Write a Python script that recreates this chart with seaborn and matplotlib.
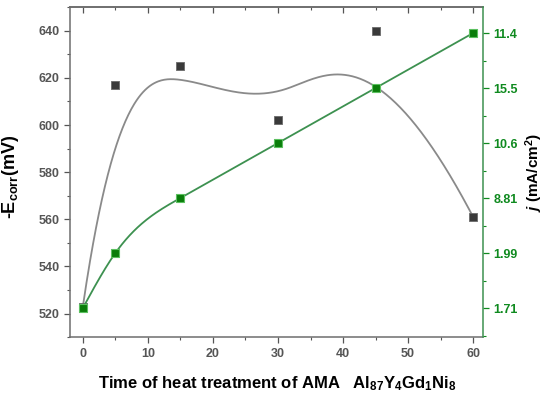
import numpy as np
import pandas as pd
import matplotlib
matplotlib.use("Agg")
import matplotlib.pyplot as plt
from matplotlib.ticker import MultipleLocator, FixedLocator, FixedFormatter
import seaborn as sns

# ---- data ----
time_min = [0, 5, 15, 30, 45, 60]
ecorr_mv = [523, 617, 625, 602, 640, 561]
j_labels = ["1.71", "1.99", "8.81", "10.6", "15.5", "11.4"]
j_rank = [0, 1, 2, 3, 4, 5]   # position of each j value on the right axis

sns.set_theme(style="white")
plt.rcParams['font.family'] = ['Liberation Sans', 'DejaVu Sans']
plt.rcParams['mathtext.fontset'] = 'custom'
plt.rcParams['mathtext.rm'] = 'Liberation Sans:bold'
plt.rcParams['mathtext.it'] = 'Liberation Sans:italic:bold'
plt.rcParams['mathtext.bf'] = 'Liberation Sans:bold'


def bspline_curve(xs, ys, n=400, k=3):
    """Clamped B-spline using the data points as control points."""
    P = np.column_stack([xs, ys]).astype(float)
    m = len(P)
    inner = np.linspace(0, 1, m - k + 1)[1:-1]
    knots = np.concatenate([np.zeros(k + 1), inner, np.ones(k + 1)])
    t = np.linspace(0, 1, n)
    t[-1] = 1 - 1e-12

    def basis(i, p, t):
        if p == 0:
            return ((knots[i] <= t) & (t < knots[i + 1])).astype(float)
        out = np.zeros_like(t)
        d1 = knots[i + p] - knots[i]
        d2 = knots[i + p + 1] - knots[i + 1]
        if d1 > 0:
            out += (t - knots[i]) / d1 * basis(i, p - 1, t)
        if d2 > 0:
            out += (knots[i + p + 1] - t) / d2 * basis(i + 1, p - 1, t)
        return out

    B = np.column_stack([basis(i, k, t) for i in range(m)])
    C = B @ P
    return C[:, 0], C[:, 1]


def natural_spline(xs, ys, n=400):
    x = np.asarray(xs, float)
    y = np.asarray(ys, float)
    N = len(x)
    h = np.diff(x)
    A = np.zeros((N, N))
    r = np.zeros(N)
    A[0, 0] = 1
    A[-1, -1] = 1
    for i in range(1, N - 1):
        A[i, i - 1] = h[i - 1]
        A[i, i] = 2 * (h[i - 1] + h[i])
        A[i, i + 1] = h[i]
        r[i] = 6 * ((y[i + 1] - y[i]) / h[i] - (y[i] - y[i - 1]) / h[i - 1])
    M = np.linalg.solve(A, r)
    xx = np.linspace(x[0], x[-1], n)
    idx = np.clip(np.searchsorted(x, xx) - 1, 0, N - 2)
    x0, x1 = x[idx], x[idx + 1]
    hh = x1 - x0
    yy = (M[idx] * (x1 - xx) ** 3 / (6 * hh) + M[idx + 1] * (xx - x0) ** 3 / (6 * hh)
          + (y[idx] / hh - M[idx] * hh / 6) * (x1 - xx)
          + (y[idx + 1] / hh - M[idx + 1] * hh / 6) * (xx - x0))
    return xx, yy


df = pd.DataFrame({"t": time_min, "E": ecorr_mv, "j": j_rank})
bx, by = bspline_curve(time_min, ecorr_mv)
gx, gy = natural_spline(time_min, j_rank)

fig = plt.figure(figsize=(5.5, 3.99), dpi=100)
ax = fig.add_axes([0.127, 0.155, 0.751, 0.827])
ax2 = ax.twinx()

GRAY = "#3a3a3a"
GREEN = "#0f8a1f"
LINEGREEN = "#3d9150"

sns.lineplot(x=bx, y=by, ax=ax, color="#8a8a8a", lw=1.3, sort=False, zorder=2)
sns.scatterplot(data=df, x="t", y="E", ax=ax, marker="s", s=30, color=GRAY,
                edgecolor="#6a6a6a", linewidth=0.6, zorder=3)

sns.lineplot(x=gx, y=gy, ax=ax2, color=LINEGREEN, lw=1.3, sort=False, zorder=2)
sns.scatterplot(data=df, x="t", y="j", ax=ax2, marker="s", s=36, color="#0a7d0a",
                edgecolor="#5cc060", linewidth=0.8, zorder=3)

ax.set_xlim(-2, 61.5)
ax.set_ylim(510, 650)
ax2.set_ylim(-0.53, 5.47)

ax.xaxis.set_major_locator(MultipleLocator(10))
ax.xaxis.set_minor_locator(MultipleLocator(5))
ax.yaxis.set_major_locator(MultipleLocator(20))
ax.yaxis.set_minor_locator(MultipleLocator(10))
ax2.yaxis.set_major_locator(FixedLocator(j_rank))
ax2.yaxis.set_major_formatter(FixedFormatter(j_labels))
ax2.yaxis.set_minor_locator(MultipleLocator(0.5))

ax.tick_params(axis="x", which="both", direction="out", bottom=True, top=False,
               colors="#555555", labelsize=9)
ax.tick_params(axis="y", which="both", direction="out", left=True, colors="#555555",
               labelsize=9)
ax.tick_params(which="major", length=4, width=0.9)
ax.tick_params(which="minor", length=2.5, width=0.8)
ax2.tick_params(axis="y", which="both", direction="out", right=True, colors=GREEN,
                labelsize=9)
ax2.tick_params(which="major", length=4, width=0.9)
ax2.tick_params(which="minor", length=2.5, width=0.8)

# top ticks pointing inward (mirrored, no labels)
secx = ax.secondary_xaxis("top")
secx.xaxis.set_major_locator(MultipleLocator(10))
secx.xaxis.set_minor_locator(MultipleLocator(5))
secx.tick_params(which="both", direction="in", labeltop=False, colors="#555555")
secx.tick_params(which="major", length=4, width=0.9)
secx.tick_params(which="minor", length=2.5, width=0.8)

for lab in ax.get_xticklabels() + ax.get_yticklabels() + ax2.get_yticklabels():
    lab.set_fontweight("bold")

for s in ["left", "bottom", "top"]:
    ax.spines[s].set_color("#6e6e6e")
    ax.spines[s].set_linewidth(1.1)
secx.spines["top"].set_color("#6e6e6e")
ax2.spines["right"].set_color(LINEGREEN)
ax2.spines["right"].set_linewidth(1.1)
ax2.spines["left"].set_visible(False)
ax2.spines["top"].set_visible(False)
ax2.spines["bottom"].set_visible(False)
ax.spines["right"].set_visible(False)

ax.set_xlabel(r"Time of heat treatment of AMA   Al$_{87}$Y$_{4}$Gd$_{1}$Ni$_{8}$",
              fontsize=12, fontweight="bold", color="black")
ax.xaxis.set_label_coords(0.502, -0.112)
ax.set_ylabel(r"-E$_{\mathrm{corr}}$(mV)", fontsize=13, fontweight="bold", color="black")
ax.yaxis.set_label_coords(-0.118, 0.485)
ax2.set_ylabel(r"$j$ (mA/cm$^{2}$)", fontsize=11, fontweight="bold", color="black",
               labelpad=4)

fig.savefig("out.png", dpi=100)
